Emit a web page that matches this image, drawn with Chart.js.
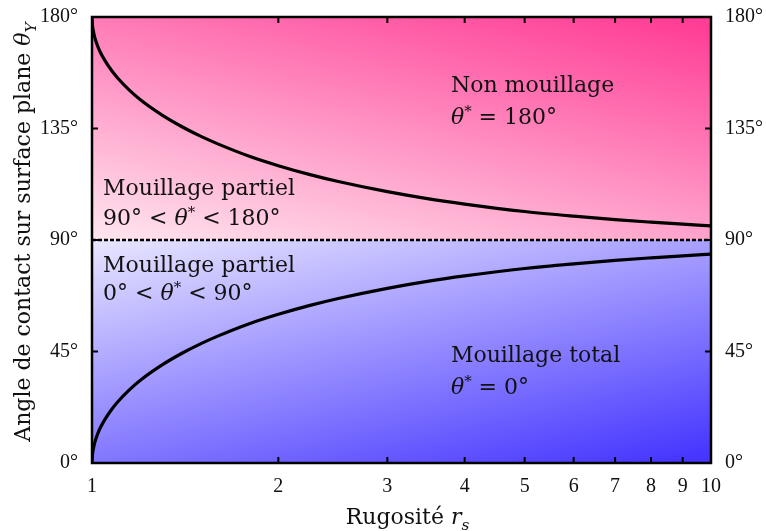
<!DOCTYPE html>
<html>
<head>
<meta charset="utf-8">
<script src="https://cdn.jsdelivr.net/npm/chart.js@4/dist/chart.umd.min.js"></script>
<style>
  html, body { margin: 0; padding: 0; background: #fff; }
  #wrap { width: 766px; height: 531px; }
</style>
</head>
<body>
<div id="wrap"><canvas id="chart"></canvas></div>
<script>
const FONT = '"DejaVu Serif", serif';
const TICK_FONT = '"Liberation Serif", serif';

const xTicks = [1, 2, 3, 4, 5, 6, 7, 8, 9, 10];
const yTicks = [0, 45, 90, 135, 180];

// valeurs
const rugosite   = [1, 1.002, 1.005, 1.01, 1.02, 1.03, 1.05, 1.075, 1.1, 1.15, 1.2, 1.3, 1.4, 1.5, 1.6, 1.8, 2, 2.25, 2.5, 3, 3.5, 4, 5, 6, 7, 8, 9, 10];
const angleHaut  = [180, 176.4, 174.3, 171.9, 168.6, 166.1, 162.3, 158.5, 155.4, 150.4, 146.4, 140.3, 135.6, 131.8, 128.7, 123.7, 120, 116.4, 113.6, 109.5, 106.6, 104.5, 101.5, 99.6, 98.2, 97.2, 96.4, 95.7];
const angleBas   = [0, 3.6, 5.7, 8.1, 11.4, 13.9, 17.7, 21.5, 24.6, 29.6, 33.6, 39.7, 44.4, 48.2, 51.3, 56.3, 60, 63.6, 66.4, 70.5, 73.4, 75.5, 78.5, 80.4, 81.8, 82.8, 83.6, 84.3];
const seuilX = [1, 10];
const seuilY = [90, 90];

const pts = (xs, ys) => xs.map((x, i) => ({ x, y: ys[i] }));

function drawRich(ctx, x, y, segs, size, measureOnly) {
  let cx = x;
  segs.forEach(s => {
    const sz = s.sup ? size * 0.68 : s.sub ? size * 0.7 : size;
    ctx.font = (s.i ? 'italic ' : '') + sz + 'px ' + FONT;
    const dy = s.sup ? -size * 0.38 : s.sub ? size * 0.28 : 0;
    if (!measureOnly) ctx.fillText(s.t, cx, y + dy);
    cx += ctx.measureText(s.t).width;
  });
  return cx - x;
}

const labels = [
  { x: 3.8,   y: 149.7, segs: [{ t: 'Non mouillage' }] },
  { x: 3.8,   y: 136.8, segs: [{ t: 'θ', i: true }, { t: '*', sup: true }, { t: ' = 180°' }] },
  { x: 1.042, y: 108.2, segs: [{ t: 'Mouillage partiel' }] },
  { x: 1.042, y: 96.0,  segs: [{ t: '90° < ' }, { t: 'θ', i: true }, { t: '*', sup: true }, { t: ' < 180°' }] },
  { x: 1.042, y: 77.1,  segs: [{ t: 'Mouillage partiel' }] },
  { x: 1.042, y: 65.8,  segs: [{ t: '0° < ' }, { t: 'θ', i: true }, { t: '*', sup: true }, { t: ' < 90°' }] },
  { x: 3.8,   y: 40.8,  segs: [{ t: 'Mouillage total' }] },
  { x: 3.8,   y: 27.8,  segs: [{ t: 'θ', i: true }, { t: '*', sup: true }, { t: ' = 0°' }] },
];

const decorPlugin = {
  id: 'decor',
  beforeDatasetsDraw(chart) {
    const { ctx, chartArea: a, scales } = chart;
    const y90 = scales.y.getPixelForValue(90);
    const w = a.right - a.left;
    // dégradé haut
    let h = y90 - a.top;
    let g = ctx.createLinearGradient(a.left, y90, a.left + w * 0.12, y90 - h * 1.5);
    g.addColorStop(0, '#ffe6ef');
    g.addColorStop(1, '#ff3d96');
    ctx.save();
    ctx.fillStyle = g;
    ctx.fillRect(a.left, a.top, w, h);
    // dégradé bas
    h = a.bottom - y90;
    g = ctx.createLinearGradient(a.left, y90, a.left + w * 0.12, y90 + h * 1.5);
    g.addColorStop(0, '#e8e6ff');
    g.addColorStop(1, '#4636ff');
    ctx.fillStyle = g;
    ctx.fillRect(a.left, y90, w, h);
    ctx.restore();
  },
  afterDatasetsDraw(chart) {
    const { ctx, chartArea: a, scales } = chart;
    ctx.save();
    ctx.strokeStyle = '#000';
    ctx.lineWidth = 2;
    ctx.beginPath();
    xTicks.slice(1, -1).forEach(v => {
      const px = scales.x.getPixelForValue(v);
      ctx.moveTo(px, a.bottom); ctx.lineTo(px, a.bottom - 6);
      ctx.moveTo(px, a.top);    ctx.lineTo(px, a.top + 6);
    });
    yTicks.slice(1, -1).forEach(v => {
      const py = scales.y.getPixelForValue(v);
      ctx.moveTo(a.left, py);  ctx.lineTo(a.left + 6, py);
      ctx.moveTo(a.right, py); ctx.lineTo(a.right - 6, py);
    });
    ctx.stroke();
    ctx.lineWidth = 2.5;
    ctx.strokeRect(a.left, a.top, a.right - a.left, a.bottom - a.top);

    // annotations
    ctx.fillStyle = '#111';
    ctx.textBaseline = 'alphabetic';
    ctx.textAlign = 'left';
    labels.forEach(l => {
      drawRich(ctx, scales.x.getPixelForValue(l.x), scales.y.getPixelForValue(l.y), l.segs, 22);
    });

    // titres des axes
    const xt = [{ t: 'Rugosité ' }, { t: 'r', i: true }, { t: 's', i: true, sub: true }];
    const xw = drawRich(ctx, 0, 0, xt, 22, true);
    drawRich(ctx, (a.left + a.right) / 2 - xw / 2 + 6, 524, xt, 22);

    const yt = [{ t: 'Angle de contact sur surface plane ' }, { t: 'θ', i: true }, { t: 'Y', i: true, sub: true }];
    const yw = drawRich(ctx, 0, 0, yt, 22, true);
    ctx.translate(30, 232);
    ctx.rotate(-Math.PI / 2);
    drawRich(ctx, -yw / 2, 0, yt, 22);
    ctx.restore();
  }
};

const yAxis = (pos, width) => ({
  type: 'linear',
  position: pos,
  min: 0,
  max: 180,
  afterFit: s => { s.width = width; s.paddingTop = 0; s.paddingBottom = 0; },
  afterBuildTicks: s => { s.ticks = yTicks.map(v => ({ value: v })); },
  grid: { display: false, drawTicks: false },
  border: { display: false },
  ticks: {
    color: '#111',
    padding: 14,
    font: { family: TICK_FONT, size: 20 },
    callback: v => v + '°',
  },
});

new Chart(document.getElementById('chart'), {
  type: 'line',
  data: {
    datasets: [
      {
        data: pts(rugosite, angleHaut),
        borderColor: '#000',
        borderWidth: 3.2,
        pointRadius: 0,
        cubicInterpolationMode: 'monotone',
        fill: false,
      },
      {
        data: pts(rugosite, angleBas),
        borderColor: '#000',
        borderWidth: 3.2,
        pointRadius: 0,
        cubicInterpolationMode: 'monotone',
        fill: false,
      },
      {
        data: pts(seuilX, seuilY),
        borderColor: '#000',
        borderWidth: 2.5,
        borderDash: [4, 2],
        pointRadius: 0,
        fill: false,
      },
    ],
  },
  options: {
    responsive: true,
    maintainAspectRatio: false,
    animation: false,
    layout: { padding: { top: 17, left: 0, right: 0, bottom: 0 } },
    plugins: { legend: { display: false }, tooltip: { enabled: false } },
    scales: {
      x: {
        type: 'logarithmic',
        min: 1,
        max: 10,
        afterFit: s => { s.height = 68; s.paddingLeft = 0; s.paddingRight = 0; },
        afterBuildTicks: s => { s.ticks = xTicks.map(v => ({ value: v })); },
        grid: { display: false, drawTicks: false },
        border: { display: false },
        ticks: {
          color: '#111',
          padding: 12,
          autoSkip: false,
          maxRotation: 0,
          font: { family: TICK_FONT, size: 20 },
          callback: v => String(v),
        },
      },
      y: yAxis('left', 92),
      y2: yAxis('right', 55),
    },
  },
  plugins: [decorPlugin],
});
</script>
</body>
</html>
